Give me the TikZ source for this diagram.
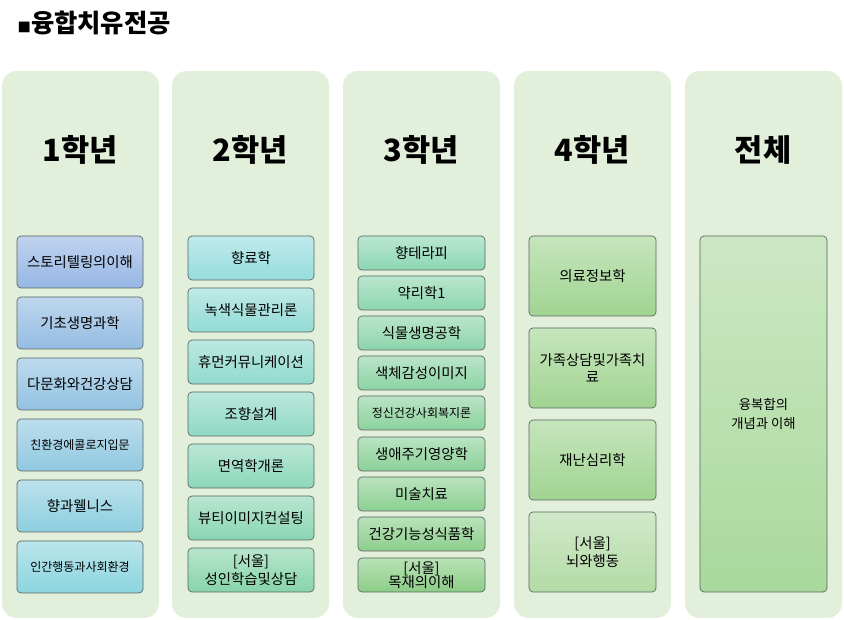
\documentclass[tikz,border=0pt]{standalone}
\usepackage{fontspec}
\setmainfont{Noto Sans CJK KR}
\begin{document}
\definecolor{colbg}{RGB}{226,239,218}
\definecolor{bA}{RGB}{150,182,228}
\definecolor{bB}{RGB}{140,212,222}
\definecolor{tA}{RGB}{150,220,222}
\definecolor{tB}{RGB}{135,212,170}
\definecolor{gA}{RGB}{140,215,180}
\definecolor{gB}{RGB}{140,205,135}
\definecolor{hA}{RGB}{160,212,145}
\definecolor{hB}{RGB}{165,212,150}
\definecolor{edge}{RGB}{90,100,95}
\begin{tikzpicture}[x=0.75pt,y=-0.75pt,
  col/.style={fill=colbg,draw=none,rounded corners=11pt},
  course/.style={draw=edge,line width=0.5pt,rounded corners=3pt,inner sep=1pt,align=center,font=\fontsize{10.8}{13}\selectfont,text=black},
  small/.style={font=\fontsize{9}{11}\selectfont},
  hdr/.style={font=\fontsize{23}{27}\selectfont\bfseries}]
\useasboundingbox (0,0) rectangle (844,620);
\newcommand\bx[8]{%
  \node[course,#8,minimum width={(#4-#2)*0.75pt},minimum height={(#5-#3)*0.75pt},
   top color=#6!60!white, bottom color=#6] (#1) at ({(#2+#4)/2},{(#3+#5)/2}) {#7};}
\node[anchor=west,font=\fontsize{19}{22}\selectfont\bfseries] (title) at (13,23) {\fontsize{10}{10}\selectfont■\fontsize{19}{22}\selectfont 융합치유전공};
% columns
\foreach \i/\x in {1/2,2/172,3/343,4/514,5/685}{
  \fill[col] (\x,71) rectangle ++(157,547);}
\node[hdr] (h1) at (80,150) {1학년};
\node[hdr] (h2) at (250,150) {2학년};
\node[hdr] (h3) at (421,150) {3학년};
\node[hdr] (h4) at (592,150) {4학년};
\node[hdr] (h5) at (763,150) {전체};
% col1
\bx{a1}{17}{236}{143}{288}{bA!100!bB}{스토리텔링의이해}{}
\bx{a2}{17}{297}{143}{349}{bA!80!bB}{기초생명과학}{}
\bx{a3}{17}{358}{143}{410}{bA!60!bB}{다문화와건강상담}{}
\bx{a4}{17}{419}{143}{471}{bA!40!bB}{친환경에콜로지입문}{small}
\bx{a5}{17}{480}{143}{532}{bA!20!bB}{향과웰니스}{}
\bx{a6}{17}{541}{143}{593}{bA!0!bB}{인간행동과사회환경}{small}
% col2
\bx{b1}{188}{236}{314}{280}{tA!100!tB}{향료학}{}
\bx{b2}{188}{288}{314}{332}{tA!83!tB}{녹색식물관리론}{}
\bx{b3}{188}{340}{314}{384}{tA!67!tB}{휴먼커뮤니케이션}{}
\bx{b4}{188}{392}{314}{436}{tA!50!tB}{조향설계}{}
\bx{b5}{188}{444}{314}{488}{tA!33!tB}{면역학개론}{}
\bx{b6}{188}{496}{314}{540}{tA!17!tB}{뷰티이미지컨설팅}{}
\bx{b7}{188}{548}{314}{592}{tA!0!tB}{[서울]\\성인학습및상담}{}
% col3
\bx{c1}{358}{236}{485}{270}{gA!100!gB}{향테라피}{}
\bx{c2}{358}{276}{485}{310}{gA!88!gB}{약리학1}{}
\bx{c3}{358}{316}{485}{350}{gA!75!gB}{식물생명공학}{}
\bx{c4}{358}{356}{485}{390}{gA!63!gB}{색체감성이미지}{}
\bx{c5}{358}{396}{485}{430}{gA!50!gB}{정신건강사회복지론}{small}
\bx{c6}{358}{437}{485}{471}{gA!38!gB}{생애주기영양학}{}
\bx{c7}{358}{477}{485}{511}{gA!25!gB}{미술치료}{}
\bx{c8}{358}{517}{485}{551}{gA!13!gB}{건강기능성식품학}{}
\bx{c9}{358}{558}{485}{592}{gA!0!gB}{[서울]\\목재의이해}{font=\fontsize{10.8}{11}\selectfont}
% col4
\bx{d1}{529}{236}{656}{316}{hA}{의료정보학}{}
\bx{d2}{529}{328}{656}{408}{hA}{가족상담및가족치\\료}{}
\bx{d3}{529}{420}{656}{500}{hA}{재난심리학}{}
\bx{d4}{529}{512}{656}{592}{hB!85!white}{[서울]\\뇌와행동}{}
% col5
\bx{e1}{700}{236}{827}{592}{hA!90!white}{융복합의\\개념과 이해}{font=\fontsize{10}{14}\selectfont}
\end{tikzpicture}
\end{document}
